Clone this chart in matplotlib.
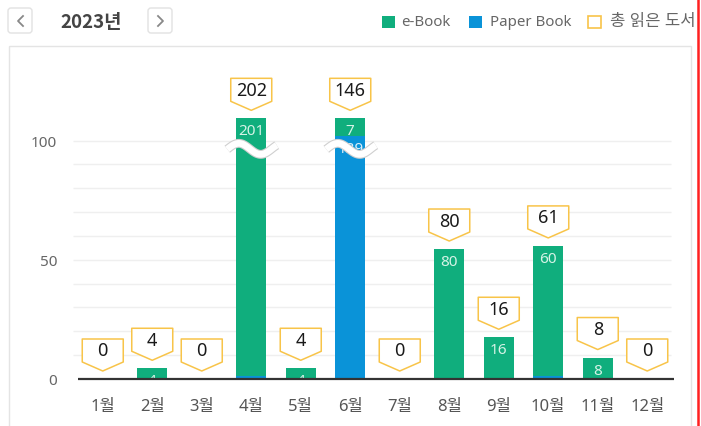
import numpy as np
import matplotlib
matplotlib.use('Agg')
import matplotlib.pyplot as plt
import matplotlib.transforms as mtransforms
import matplotlib.patheffects as pe
from matplotlib.patches import Rectangle, Polygon, FancyBboxPatch

plt.rcParams['font.family'] = ['Noto Sans', 'Noto Sans CJK KR', 'DejaVu Sans']

# data
months = ['1월', '2월', '3월', '4월', '5월', '6월', '7월', '8월', '9월', '10월', '11월', '12월']
ebook = [0, 4, 0, 201, 4, 7, 0, 80, 16, 60, 8, 0]
paper = [0, 0, 0, 1, 0, 139, 0, 0, 0, 1, 0, 0]
total = [0, 4, 0, 202, 4, 146, 0, 80, 16, 61, 8, 0]
# bar heights as they are drawn against the axis (the chart does not draw them to scale)
ebook_bar = [0, 4.5, 0, 108, 4.5, 7.3, 0, 54.5, 17.5, 54.5, 9, 0]
paper_bar = [0, 0, 0, 1.3, 0, 102, 0, 0, 0, 1.3, 0, 0]
year = '2023년'

green = '#10ae7d'
blue = '#0a93d8'
gold = '#f8c449'

fig = plt.figure(figsize=(7.01, 4.27), dpi=100)

# page overlay in pixel coords
ax0 = fig.add_axes([0, 0, 1, 1], zorder=0)
ax0.set_xlim(0, 701)
ax0.set_ylim(427, 0)
ax0.axis('off')

ax = fig.add_axes([78/701, 47/427, 594/701, 286.2/427], zorder=1)
ax.set_facecolor('none')

x = np.arange(len(months))
ax.set_xlim(-0.5, 11.5)
ax.set_ylim(0, 120)

# grid
ax.hlines(np.arange(10, 101, 10), -0.6, 11.48, color='#efefef', lw=1, zorder=0, clip_on=False)

ax.bar(x, paper_bar, width=0.606, color=blue, zorder=2)
ax.bar(x, ebook_bar, bottom=paper_bar, width=0.606, color=green, zorder=2)

ax.hlines(0, -0.5, 11.54, color='#333333', lw=1.6, zorder=4, clip_on=False)

# labels inside the segments
for i in x:
    segs = [(paper[i], paper_bar[i], 0, '#d9eefa'),
            (ebook[i], ebook_bar[i], paper_bar[i], '#d5f3e6')]
    for val, h, b, c in segs:
        if val > 0:
            t = ax.annotate(str(val), xy=(i, b + h), xytext=(0, -9), textcoords='offset points',
                            ha='center', va='center', color=c, fontsize=11, zorder=3)
            t.set_clip_path(ax.patch)


def px_trans(xd, yd):
    return fig.dpi_scale_trans + mtransforms.ScaledTranslation(xd, yd, ax.transData)


# axis break waves on the bars that go off the chart
wx = np.linspace(-24, 25.5, 80)
wy = 5.5 * np.sin(2 * np.pi * (wx + 23.5) / 44)
for i in x:
    if total[i] > 110:
        ax.plot(wx / 100, wy / 100, color='white', lw=4.8, solid_capstyle='butt',
                transform=px_trans(i, 96.5), clip_on=False, zorder=5,
                path_effects=[pe.Stroke(linewidth=6.4, foreground='#cfcfcf'), pe.Normal()])

# total callouts
for i in x:
    top = paper_bar[i] + ebook_bar[i]
    tr = px_trans(i, top)
    verts = np.array([(0, 8), (-20.5, 17), (-20.5, 40), (20.5, 40), (20.5, 17)]) / 100
    ax.add_patch(Polygon(verts, closed=True, fc='white', ec=gold, lw=1.1,
                         joinstyle='round', transform=tr, clip_on=False, zorder=6))
    ax.text(0, 0.285, str(total[i]), transform=tr, ha='center', va='center',
            fontsize=13, color='#1a1a1a', zorder=7, clip_on=False)

for s in ax.spines.values():
    s.set_visible(False)
ax.set_yticks([0, 50, 100])
ax.set_xticks(x)
ax.set_xticklabels(months)
ax.tick_params(axis='y', length=0, pad=15, labelsize=11, labelcolor='#666666')
ax.tick_params(axis='x', length=0, pad=14, labelsize=12, labelcolor='#555555')

# panel and header
ax0.add_patch(Rectangle((9, 47), 682, 400, fc='none', ec='#e4e4e4', lw=1))
for bx in (8, 148):
    ax0.add_patch(FancyBboxPatch((bx, 9), 24, 25, boxstyle='round,pad=0,rounding_size=3',
                                 fc='white', ec='#e2e2e2', lw=1))
ax0.plot([23, 18, 23], [17, 22, 27], color='#888888', lw=1.3)
ax0.plot([158, 163, 158], [17, 22, 27], color='#888888', lw=1.3)
ax0.text(91, 22, year, ha='center', va='center', fontsize=13.5, fontweight='bold',
         color='#444444', family=['Noto Sans CJK KR'])

# legend
ax0.add_patch(Rectangle((382, 17), 13, 12, fc=green, ec='none'))
ax0.text(401, 22.5, 'e-Book', ha='left', va='center', fontsize=10.8, color='#666666')
ax0.add_patch(Rectangle((469, 17), 13, 12, fc=blue, ec='none'))
ax0.text(490, 22.5, 'Paper Book', ha='left', va='center', fontsize=10.8, color='#666666')
ax0.add_patch(Rectangle((588, 16.5), 12.5, 12.5, fc='white', ec=gold, lw=1.2))
ax0.text(610, 22, '총 읽은 도서', ha='left', va='center', fontsize=12, color='#666666')

ax0.plot([698.3, 698.3], [0, 427], color='#ff2020', lw=1.8)

plt.savefig('out.png', dpi=100)
